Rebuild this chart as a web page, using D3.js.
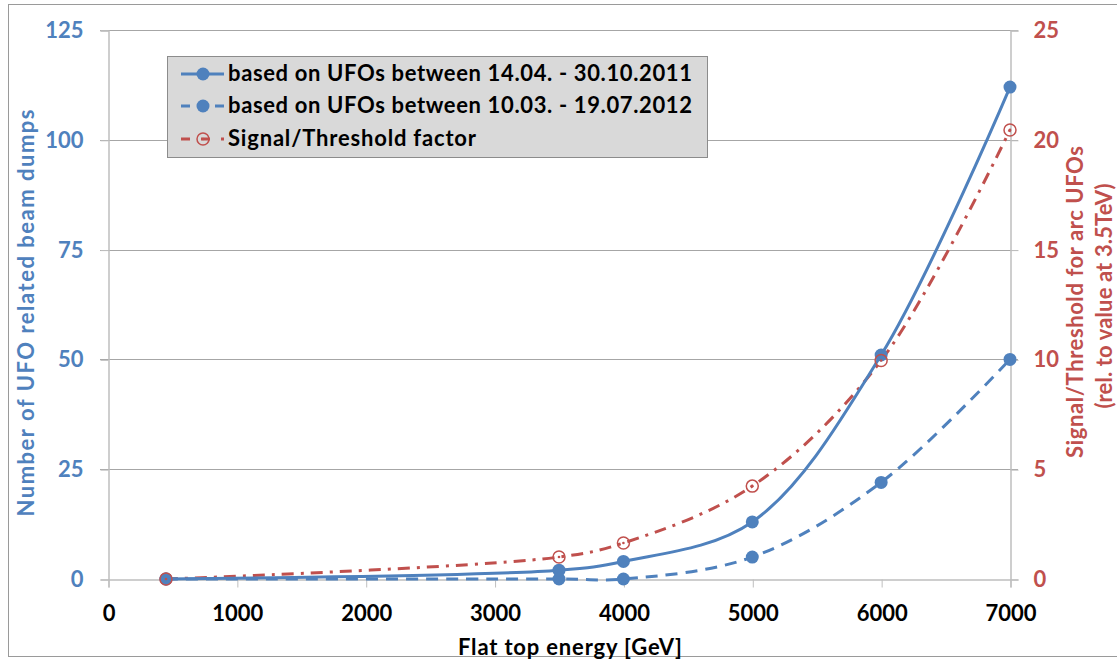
<!DOCTYPE html>
<html>
<head>
<meta charset="utf-8">
<script src="https://cdn.jsdelivr.net/npm/d3@7"></script>
<style>
  body { margin: 0; background: #fff; }
  svg text { font-family: Lato, "Open Sans", sans-serif; font-weight: bold; }
</style>
</head>
<body>
<svg id="chart" width="1117" height="660"></svg>
<script>
// Flat top energy [GeV]
const energies = [450, 3500, 4000, 5000, 6000, 7000];
// UFO related beam dumps, extrapolated from 2011 data
const dumps2011 = [0, 2, 4, 13, 51, 112];
// UFO related beam dumps, extrapolated from 2012 data
const dumps2012 = [0, 0, 0, 5, 22, 50];
// Signal/Threshold factor for arc UFOs (relative to 3.5 TeV)
const sigThreshold = [0, 1, 1.64, 4.23, 9.95, 20.45];

const xTicks = [0, 1000, 2000, 3000, 4000, 5000, 6000, 7000];
const yLeftTicks = [0, 25, 50, 75, 100, 125];
const yRightTicks = [0, 5, 10, 15, 20, 25];

const legendLabels = [
  "based on UFOs between 14.04. - 30.10.2011",
  "based on UFOs between 10.03. - 19.07.2012",
  "Signal/Threshold factor"
];

const BLUE = "#4f81bd", RED = "#c0504d", GRID = "#a6a6a6", AXIS = "#bfbfbf";
const FS = "22px";

const svg = d3.select("#chart");

// outer chart frame
svg.append("rect").attr("x", 8.5).attr("y", 4.5).attr("width", 1130).attr("height", 652)
  .attr("fill", "none").attr("stroke", "#9a9a9a").attr("stroke-width", 1);

const x = d3.scaleLinear().domain([0, 7000]).range([108, 1010]);
const yL = d3.scaleLinear().domain([0, 125]).range([579, 30]);
const yR = d3.scaleLinear().domain([0, 25]).range([579, 30]);

// horizontal gridlines
svg.append("g").selectAll("line").data(yLeftTicks.slice(1)).join("line")
  .attr("x1", 100).attr("x2", 1018)
  .attr("y1", d => Math.round(yL(d)) + 0.5).attr("y2", d => Math.round(yL(d)) + 0.5)
  .attr("stroke", GRID).attr("stroke-width", 1);

function styleAxis(g, color) {
  g.select(".domain").attr("stroke", AXIS).attr("stroke-width", 1.5);
  g.selectAll(".tick line").attr("stroke", AXIS);
  g.selectAll("text").attr("fill", color)
    .style("font-size", FS).style("font-family", "Lato, sans-serif").style("font-weight", "bold");
}

// left axis
const leftAxis = svg.append("g").attr("transform", `translate(${x(0) + 0.5},0.5)`)
  .call(d3.axisLeft(yL).tickValues(yLeftTicks).tickSize(8).tickPadding(17));
styleAxis(leftAxis, BLUE);

// right axis
const rightAxis = svg.append("g").attr("transform", `translate(${x(7000) + 0.5},0.5)`)
  .call(d3.axisRight(yR).tickValues(yRightTicks).tickSize(8).tickPadding(15));
styleAxis(rightAxis, RED);

// bottom axis
const bottomAxis = svg.append("g").attr("transform", `translate(0.5,${yL(0) + 0.5})`)
  .call(d3.axisBottom(x).tickValues(xTicks).tickFormat(d3.format("d")).tickSize(8).tickPadding(18));
styleAxis(bottomAxis, "#000");

// axis titles
function title(tx, ty, rot, color, len, str) {
  return svg.append("text")
    .attr("transform", `translate(${tx},${ty})` + (rot ? ` rotate(${rot})` : ""))
    .attr("text-anchor", "middle").attr("fill", color).style("font-size", FS)
    .attr("textLength", len).attr("lengthAdjust", "spacing")
    .text(str);
}
title(34, 313, -90, BLUE, 407, "Number of UFO related beam dumps");
title(1083, 302, -90, RED, 312, "Signal/Threshold for arc UFOs");
title(1112, 296, -90, RED, 225, "(rel. to value at 3.5TeV)");
title(570, 655, 0, "#000", 224, "Flat top energy [GeV]");

const curve = d3.curveCatmullRom.alpha(0.5);

const lineL = d3.line().x((d, i) => x(energies[i])).y(d => yL(d)).curve(curve);
const lineR = d3.line().x((d, i) => x(energies[i])).y(d => yR(d)).curve(curve);

// Signal/Threshold curve
svg.append("path").attr("d", lineR(sigThreshold))
  .attr("fill", "none").attr("stroke", RED).attr("stroke-width", 3)
  .attr("stroke-dasharray", "12,7,3,7");

// 2012 extrapolation
svg.append("path").attr("d", lineL(dumps2012))
  .attr("fill", "none").attr("stroke", BLUE).attr("stroke-width", 3)
  .attr("stroke-dasharray", "12,8");

// 2011 extrapolation
svg.append("path").attr("d", lineL(dumps2011))
  .attr("fill", "none").attr("stroke", BLUE).attr("stroke-width", 3);

// markers
function blueDot(g, cx, cy) {
  g.append("circle").attr("cx", cx).attr("cy", cy).attr("r", 6.5).attr("fill", BLUE);
}
function redRing(g, cx, cy) {
  g.append("circle").attr("cx", cx).attr("cy", cy).attr("r", 6).attr("fill", "none")
    .attr("stroke", RED).attr("stroke-width", 1.5);
  g.append("circle").attr("cx", cx).attr("cy", cy).attr("r", 1.3).attr("fill", RED);
}

const marks = svg.append("g");
dumps2012.forEach((v, i) => blueDot(marks, x(energies[i]), yL(v)));
dumps2011.forEach((v, i) => blueDot(marks, x(energies[i]), yL(v)));
sigThreshold.forEach((v, i) => redRing(marks, x(energies[i]), yR(v)));

// legend
const lg = svg.append("g");
lg.append("rect").attr("x", 167.5).attr("y", 56.5).attr("width", 540).attr("height", 101)
  .attr("fill", "#d9d9d9").attr("stroke", "#8c8c8c").attr("stroke-width", 1);
const rows = [74, 106, 139];
const legendLens = [464, 464, 248];
const styles = [
  { stroke: BLUE, dash: null, mark: "dot" },
  { stroke: BLUE, dash: "9,8", mark: "dot" },
  { stroke: RED, dash: "9,11", mark: "ring" }
];
rows.forEach((ry, i) => {
  const s = styles[i];
  lg.append("line").attr("x1", 181).attr("x2", 224).attr("y1", ry).attr("y2", ry)
    .attr("stroke", s.stroke).attr("stroke-width", 3)
    .attr("stroke-dasharray", s.dash);
  if (s.mark === "dot") blueDot(lg, 203, ry);
  else redRing(lg, 203, ry);
  lg.append("text").attr("x", 228).attr("y", ry + 7).attr("fill", "#000")
    .style("font-size", FS).attr("textLength", legendLens[i]).attr("lengthAdjust", "spacing")
    .text(legendLabels[i]);
});
</script>
</body>
</html>
